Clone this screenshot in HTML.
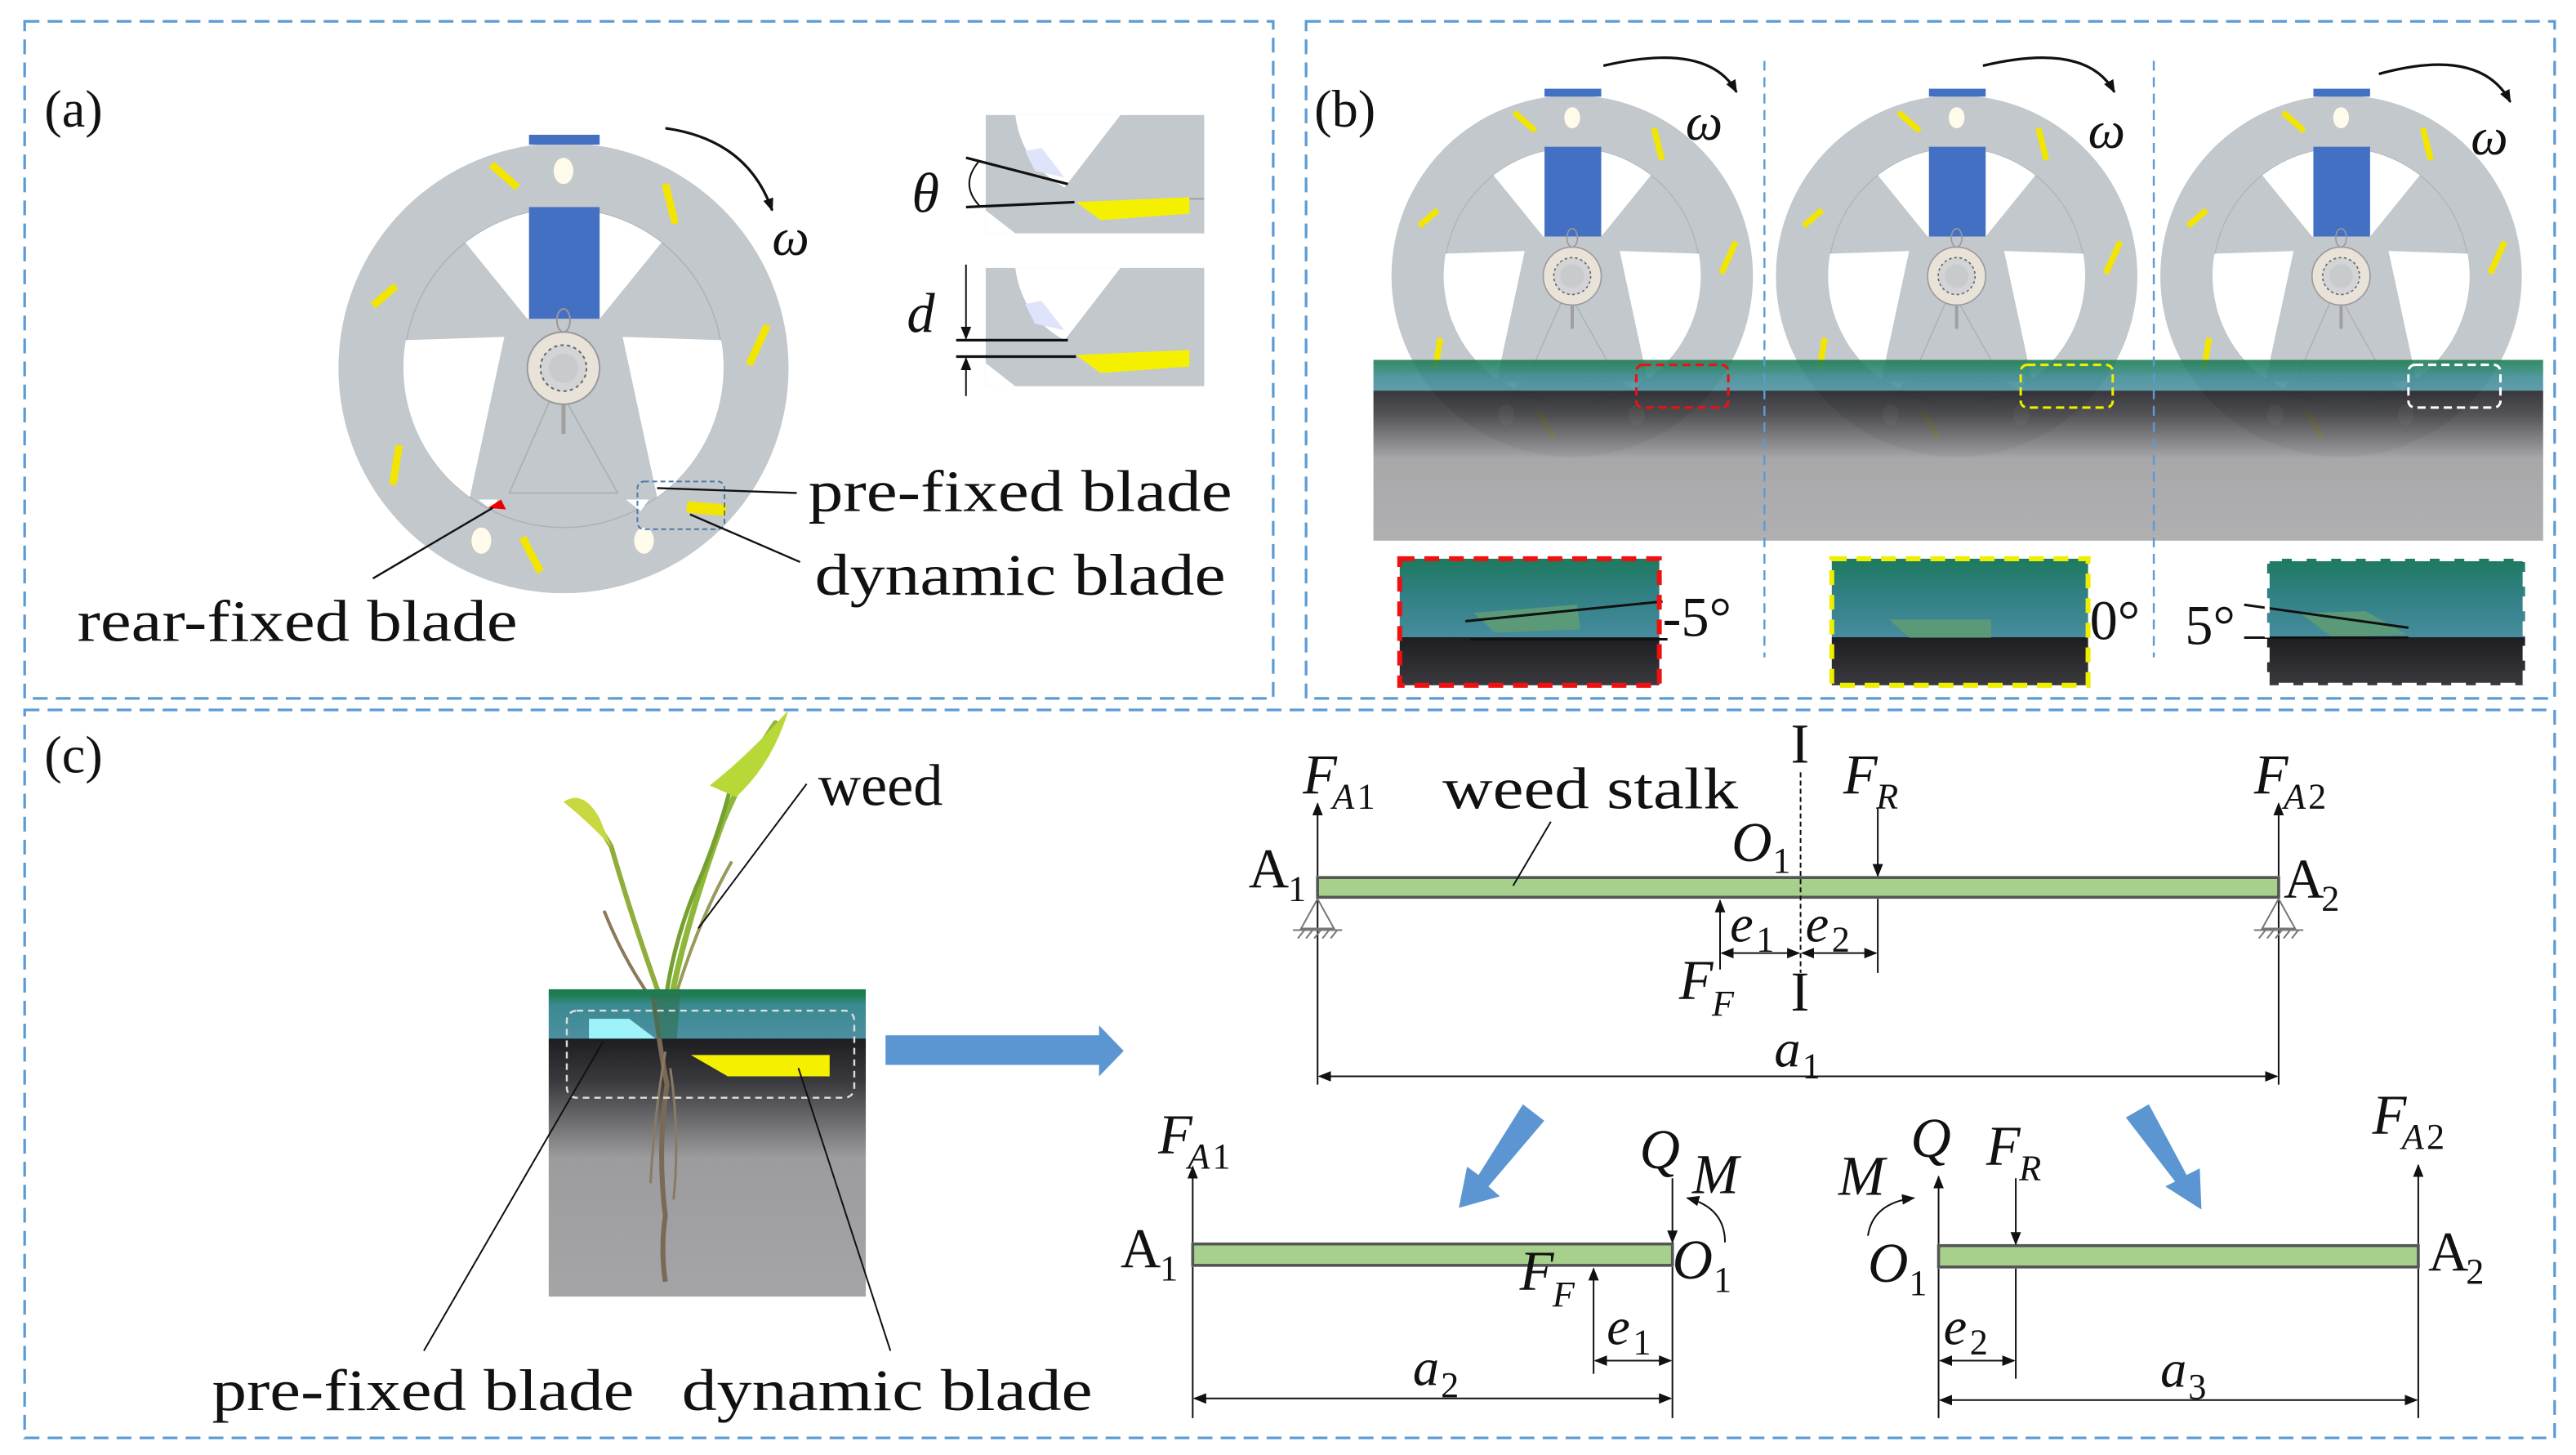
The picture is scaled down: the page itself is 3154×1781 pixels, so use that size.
<!DOCTYPE html>
<html><head><meta charset="utf-8"><style>
html,body{margin:0;padding:0;background:#fff;}
svg{display:block;}
text{font-family:"Liberation Serif",serif;fill:#111;}
.it{font-style:italic;}
</style></head><body>
<svg width="3154" height="1781" viewBox="0 0 1568 885.4" xmlns="http://www.w3.org/2000/svg">
<defs>
<marker id="ah" viewBox="0 0 10 10" refX="9" refY="5" markerWidth="8" markerHeight="8" markerUnits="userSpaceOnUse" orient="auto-start-reverse"><path d="M0,1 L10,5 L0,9 Z" fill="#111"/></marker>
<linearGradient id="soilB" x1="0" y1="0" x2="0" y2="1">
<stop offset="0" stop-color="#1b7a4e"/><stop offset="0.05" stop-color="#27836e"/><stop offset="0.09" stop-color="#3a8a90"/><stop offset="0.17" stop-color="#4c8fa2"/><stop offset="0.171" stop-color="#1d1d22"/><stop offset="0.3" stop-color="#3c3c40"/><stop offset="0.55" stop-color="#9c9c9e"/><stop offset="1" stop-color="#a5a5a7"/></linearGradient>
<linearGradient id="soilC" x1="0" y1="0" x2="0" y2="1">
<stop offset="0" stop-color="#1b7a4e"/><stop offset="0.02" stop-color="#1f7d55"/><stop offset="0.05" stop-color="#3a8a90"/><stop offset="0.16" stop-color="#4c8fa2"/><stop offset="0.161" stop-color="#1d1d22"/><stop offset="0.3" stop-color="#3a3a3e"/><stop offset="0.55" stop-color="#9c9c9e"/><stop offset="1" stop-color="#a5a5a7"/></linearGradient>
<linearGradient id="ins" x1="0" y1="0" x2="0" y2="1">
<stop offset="0" stop-color="#1d7a5e"/><stop offset="0.25" stop-color="#2e7f80"/><stop offset="0.62" stop-color="#468c9e"/><stop offset="0.621" stop-color="#1e1e22"/><stop offset="1" stop-color="#3a3a3e"/></linearGradient>
<g id="wheel">
<circle r="137" fill="#c3c8cc"/>
<circle r="97" fill="none" stroke="#aeb3b8" stroke-width="0.8"/>
<path d="M-59.7,-76.4 A97,97 0 0 1 59.7,-76.4 L22,-30 L-22,-30 Z" fill="#fff"/>
<path d="M-96,-17 A97,97 0 0 0 -57,78.5 L-36,-19 Z" fill="#fff"/>
<path d="M96,-17 A97,97 0 0 1 57,78.5 L36,-19 Z" fill="#fff"/>
<path d="M-4,10 L-33,76 L33,76 Z" fill="none" stroke="#a9aeb3" stroke-width="0.8"/>
<path d="M-52,80 L-40,80 L-44,86 Z M38,80 L52,80 L47,87 Z" fill="#fff"/>
<rect x="-21" y="-98" width="43" height="68" fill="#4470c4"/>
<rect x="-21" y="-142" width="43" height="6" fill="#4470c4"/>
<ellipse cx="0" cy="-29" rx="4" ry="7" fill="none" stroke="#999" stroke-width="1"/>
<line x1="0" y1="20" x2="0" y2="40" stroke="#a0a0a0" stroke-width="2.5"/>
<circle r="22" fill="#e8e2d8" stroke="#9a9a9a" stroke-width="1"/>
<circle r="14" fill="#d2d4d6" stroke="#666" stroke-width="1" stroke-dasharray="2 2"/>
<circle r="9" fill="#c8cbce"/>
<ellipse cx="0" cy="-120" rx="6" ry="8" fill="#fffbea"/>
<ellipse cx="-50" cy="105" rx="6" ry="8" fill="#fffbea"/>
<ellipse cx="49" cy="105" rx="6" ry="8" fill="#fffbea"/>
<g stroke="#f2e600" stroke-width="4.5" stroke-linecap="butt">
<line x1="-44" y1="-124" x2="-28" y2="-110"/>
<line x1="62" y1="-112" x2="68" y2="-88"/>
<line x1="-116" y1="-38" x2="-102" y2="-50"/>
<line x1="124" y1="-26" x2="113" y2="-2"/>
<line x1="-100" y1="47" x2="-104" y2="71"/>
<line x1="-25" y1="103" x2="-14" y2="124"/>
</g>
</g>
</defs>

<!-- panel borders -->
<g fill="none" stroke="#5b9bd5" stroke-width="1.6" stroke-dasharray="9 5">
<rect x="15" y="13" width="760" height="412"/>
<rect x="795" y="13" width="760" height="412"/>
<rect x="15" y="432" width="1540" height="443"/>
</g>

<!-- ===== (a) ===== -->
<text x="27" y="77" font-size="32">(a)</text>
<use href="#wheel" transform="translate(343,224)"/>
<rect x="418" y="306" width="24" height="7" fill="#f2e600" transform="rotate(5 430 310)"/>
<path d="M297,309 L305,304 L308,310 Z" fill="#e00"/>
<rect x="388" y="293" width="53" height="29" rx="4" fill="none" stroke="#4a7aa8" stroke-width="1" stroke-dasharray="3 2"/>
<path d="M405,78 Q455,85 470,128" fill="none" stroke="#111" stroke-width="1.6" marker-end="url(#ah)"/>
<text x="470" y="155" font-size="32" class="it">ω</text>
<line x1="400" y1="297" x2="485" y2="300" stroke="#111" stroke-width="1.2"/>
<line x1="420" y1="313" x2="487" y2="342" stroke="#111" stroke-width="1.2"/>
<line x1="300" y1="309" x2="227" y2="352" stroke="#111" stroke-width="1.2"/>
<text x="492" y="311" font-size="36" textLength="258" lengthAdjust="spacingAndGlyphs">pre-fixed blade</text>
<text x="496" y="362" font-size="36" textLength="250" lengthAdjust="spacingAndGlyphs">dynamic blade</text>
<text x="47" y="390" font-size="36" textLength="268" lengthAdjust="spacingAndGlyphs">rear-fixed blade</text>
<!-- inset top -->
<g>
<rect x="600" y="70" width="133" height="72" fill="#c3c8cc"/>
<path d="M618,70 Q622,100 648,114 L682,70 Z" fill="#fff"/>
<path d="M600,128 L600,142 L618,142 Z" fill="#fff"/>
<path d="M624,92 L634,90 L648,108 L630,104 Z" fill="#dfe4fb"/>
<path d="M655,123 L724,120 L724,130 L670,134 Z" fill="#f5f000"/>
<line x1="724" y1="121" x2="733" y2="121" stroke="#999" stroke-width="0.8"/>
<line x1="588" y1="96" x2="650" y2="112" stroke="#111" stroke-width="1.6"/>
<line x1="588" y1="126" x2="654" y2="123" stroke="#111" stroke-width="1.6"/>
<path d="M596,98 Q584,112 596,125" fill="none" stroke="#111" stroke-width="1"/>
<text x="555" y="129" font-size="34" class="it">θ</text>
</g>
<g>
<rect x="600" y="163" width="133" height="72" fill="#c3c8cc"/>
<path d="M618,163 Q622,193 648,207 L682,163 Z" fill="#fff"/>
<path d="M600,221 L600,235 L618,235 Z" fill="#fff"/>
<path d="M624,185 L634,183 L648,201 L630,197 Z" fill="#dfe4fb"/>
<path d="M655,216 L724,213 L724,223 L670,227 Z" fill="#f5f000"/>
<line x1="582" y1="207" x2="650" y2="207" stroke="#111" stroke-width="1.6"/>
<line x1="582" y1="217" x2="655" y2="217" stroke="#111" stroke-width="1.6"/>
<line x1="588" y1="161" x2="588" y2="206" stroke="#111" stroke-width="1" marker-end="url(#ah)"/>
<line x1="588" y1="241" x2="588" y2="218" stroke="#111" stroke-width="1" marker-end="url(#ah)"/>
<text x="552" y="202" font-size="34" class="it">d</text>
</g>

<!-- ===== (b) ===== -->
<text x="800" y="77" font-size="32">(b)</text>
<use href="#wheel" transform="translate(957,168) scale(0.803)"/>
<use href="#wheel" transform="translate(1191,168) scale(0.803)"/>
<use href="#wheel" transform="translate(1425,168) scale(0.803)"/>
<rect x="836" y="219" width="712" height="110" fill="url(#soilB)" opacity="0.88"/>
<g fill="none" stroke-width="1.5" stroke-dasharray="5 3">
<rect x="996" y="222" width="56" height="26" rx="4" stroke="#e11"/>
<rect x="1230" y="222" width="56" height="26" rx="4" stroke="#ee0"/>
<rect x="1466" y="222" width="56" height="26" rx="4" stroke="#fff"/>
</g>
<g stroke="#5b9bd5" stroke-width="1.2" stroke-dasharray="6 4">
<line x1="1074" y1="37" x2="1074" y2="400"/>
<line x1="1311" y1="37" x2="1311" y2="400"/>
</g>
<path d="M976,40 Q1040,25 1057,56" fill="none" stroke="#111" stroke-width="1.6" marker-end="url(#ah)"/>
<path d="M1207,40 Q1270,25 1287,56" fill="none" stroke="#111" stroke-width="1.6" marker-end="url(#ah)"/>
<path d="M1448,45 Q1510,28 1528,62" fill="none" stroke="#111" stroke-width="1.6" marker-end="url(#ah)"/>
<text x="1026" y="85" font-size="32" class="it">ω</text>
<text x="1271" y="90" font-size="32" class="it">ω</text>
<text x="1504" y="94" font-size="32" class="it">ω</text>
<!-- insets -->
<rect x="852" y="340" width="158" height="77" fill="url(#ins)"/>
<path d="M897,373 L960,368 L962,383 L910,385 Z" fill="#5a9a78"/>
<line x1="892" y1="378" x2="1012" y2="366" stroke="#111" stroke-width="1.5"/>
<line x1="895" y1="389" x2="1015" y2="389" stroke="#111" stroke-width="1.5"/>
<rect x="852" y="340" width="158" height="77" fill="none" stroke="#e11" stroke-width="3" stroke-dasharray="9 6"/>
<text x="1012" y="387" font-size="34">-5°</text>
<rect x="1115" y="340" width="156" height="77" fill="url(#ins)"/>
<path d="M1150,377 L1212,377 L1212,388 L1162,388 Z" fill="#5a9a78"/>
<rect x="1115" y="340" width="156" height="77" fill="none" stroke="#ee0" stroke-width="3" stroke-dasharray="9 6"/>
<text x="1272" y="389" font-size="34">0°</text>
<rect x="1380" y="340" width="157" height="77" fill="url(#ins)"/>
<path d="M1400,373 L1440,372 L1465,386 L1420,388 Z" fill="#5a9a78"/>
<line x1="1366" y1="368" x2="1466" y2="382" stroke="#111" stroke-width="1.5"/>
<line x1="1366" y1="388" x2="1466" y2="388" stroke="#111" stroke-width="1.5"/>
<rect x="1380" y="340" width="157" height="77" fill="none" stroke="#fff" stroke-width="3" stroke-dasharray="9 6"/>
<text x="1330" y="392" font-size="34">5°</text>

<!-- ===== (c) ===== -->
<text x="27" y="470" font-size="32">(c)</text>
<!-- plant -->
<g fill="none" stroke-linecap="round">
<path d="M403,610 Q385,560 372,515 Q360,495 352,488" stroke="#8fae3a" stroke-width="3"/>
<path d="M408,610 Q418,560 440,500 Q455,465 472,440" stroke="#8fb83a" stroke-width="3.5"/>
<path d="M410,610 Q425,560 445,525" stroke="#9a9a5a" stroke-width="2"/>
<path d="M398,610 Q380,585 368,555" stroke="#8a7a5a" stroke-width="2"/>
<path d="M405,610 Q410,570 428,530 Q440,500 447,470" stroke="#76a030" stroke-width="2.5"/>
</g>
<path d="M343,488 Q355,480 365,498 L372,515 Q358,500 343,488 Z" fill="#c8d840"/>
<path d="M432,478 Q455,460 480,432 Q470,465 448,485 Z" fill="#b8d838"/>
<rect x="334" y="602" width="193" height="187" fill="url(#soilC)"/>
<path d="M398,608 Q402,640 406,660 Q400,700 405,740 Q402,760 405,780" fill="none" stroke="#7a6a55" stroke-width="3"/>
<path d="M405,640 Q398,680 396,720 M408,650 Q414,690 410,730" fill="none" stroke="#8a7a65" stroke-width="1.5"/>
<path d="M396,605 L400,632 L412,632 L414,605 Z" fill="#2f7050" opacity="0.6"/>
<path d="M358.5,620 L383,620 L399,632 L358.5,632 Z" fill="#9ef3fa"/>
<path d="M420.5,642 L505,642 L505,655 L443,655 Z" fill="#f5f000"/>
<rect x="345" y="615" width="175" height="53" rx="6" fill="none" stroke="#ddd" stroke-width="1.2" stroke-dasharray="4 3"/>
<line x1="491" y1="477" x2="425" y2="565" stroke="#111" stroke-width="1"/>
<text x="498" y="490" font-size="36">weed</text>
<line x1="367" y1="634" x2="258" y2="822" stroke="#111" stroke-width="1"/>
<line x1="486" y1="650" x2="542" y2="822" stroke="#111" stroke-width="1"/>
<text x="129" y="858" font-size="36" textLength="257" lengthAdjust="spacingAndGlyphs">pre-fixed blade</text>
<text x="415" y="858" font-size="36" textLength="250" lengthAdjust="spacingAndGlyphs">dynamic blade</text>
<!-- blue arrows -->
<path d="M539,630 L669,630 L669,624 L684,639.5 L669,655 L669,648 L539,648 Z" fill="#5b96d2"/>
<path d="M927,672 L940,682 L906,722 L913,728 L888,735 L893,710 L900,715 Z" fill="#5b96d2"/>
<path d="M1294,680 L1308,672 L1331,715 L1339,711 L1340,736 L1318,722 L1324,719 Z" fill="#5b96d2"/>

<!-- top beam -->
<g stroke="#111" stroke-width="1" fill="none">
<rect x="802" y="534" width="585" height="12" fill="#a8d08d" stroke="#555" stroke-width="1.8"/>
<line x1="802" y1="533" x2="802" y2="489" marker-end="url(#ah)"/>
<line x1="1387" y1="533" x2="1387" y2="489" marker-end="url(#ah)"/>
<line x1="802" y1="547" x2="802" y2="660"/>
<line x1="1387" y1="547" x2="1387" y2="660"/>
<line x1="803" y1="655" x2="1386" y2="655" marker-start="url(#ah)" marker-end="url(#ah)"/>
<line x1="1143" y1="492" x2="1143" y2="533" marker-end="url(#ah)"/>
<line x1="1143" y1="547" x2="1143" y2="592"/>
<line x1="1047" y1="590" x2="1047" y2="548" marker-end="url(#ah)"/>
<line x1="1048" y1="580" x2="1095" y2="580" marker-start="url(#ah)" marker-end="url(#ah)"/>
<line x1="1097" y1="580" x2="1142" y2="580" marker-start="url(#ah)" marker-end="url(#ah)"/>
<line x1="1096" y1="470" x2="1096" y2="592" stroke-dasharray="3 2"/>
<line x1="944" y1="500" x2="921" y2="539"/>
<path d="M802,547 L792,565 L812,565 Z M1387,547 L1377,565 L1397,565 Z" stroke="#777"/>
<path d="M787,566 L817,566 M1372,566 L1402,566 M790,571 L794,566 M795,571 L799,566 M800,571 L804,566 M805,571 L809,566 M810,571 L814,566 M1375,571 L1379,566 M1380,571 L1384,566 M1385,571 L1389,566 M1390,571 L1394,566 M1395,571 L1399,566" stroke="#777"/>
</g>
<text x="793" y="483" font-size="34" class="it">F</text><text x="811" y="492" font-size="22" class="it">A</text><text x="826" y="492" font-size="22">1</text>
<text x="1372" y="483" font-size="34" class="it">F</text><text x="1390" y="492" font-size="22" class="it">A</text><text x="1405" y="492" font-size="22">2</text>
<text x="878" y="492" font-size="36" textLength="180" lengthAdjust="spacingAndGlyphs">weed stalk</text>
<text x="1090" y="464" font-size="34">I</text>
<text x="1090" y="615" font-size="34">I</text>
<text x="1122" y="483" font-size="34" class="it">F</text><text x="1142" y="492" font-size="22" class="it">R</text>
<text x="1054" y="524" font-size="34" class="it">O</text><text x="1079" y="531" font-size="22">1</text>
<text x="760" y="540" font-size="34">A</text><text x="784" y="548" font-size="22">1</text>
<text x="1390" y="546" font-size="34">A</text><text x="1413" y="554" font-size="22">2</text>
<text x="1053" y="573" font-size="32" class="it">e</text><text x="1069" y="579" font-size="22">1</text>
<text x="1099" y="573" font-size="32" class="it">e</text><text x="1115" y="579" font-size="22">2</text>
<text x="1022" y="608" font-size="34" class="it">F</text><text x="1042" y="618" font-size="22" class="it">F</text>
<text x="1080" y="649" font-size="32" class="it">a</text><text x="1097" y="656" font-size="22">1</text>

<!-- bottom left beam -->
<g stroke="#111" stroke-width="1" fill="none">
<rect x="726" y="757" width="292" height="13" fill="#a8d08d" stroke="#555" stroke-width="1.8"/>
<line x1="726" y1="756" x2="726" y2="710" marker-end="url(#ah)"/>
<line x1="726" y1="771" x2="726" y2="863"/>
<line x1="1018" y1="717" x2="1018" y2="756" marker-end="url(#ah)"/>
<line x1="1018" y1="771" x2="1018" y2="863"/>
<line x1="970" y1="836" x2="970" y2="772" marker-end="url(#ah)"/>
<line x1="971" y1="828" x2="1017" y2="828" marker-start="url(#ah)" marker-end="url(#ah)"/>
<line x1="727" y1="851" x2="1017" y2="851" marker-start="url(#ah)" marker-end="url(#ah)"/>
<path d="M1050,756 Q1050,735 1027,729" marker-end="url(#ah)"/>
</g>
<text x="705" y="702" font-size="34" class="it">F</text><text x="723" y="711" font-size="22" class="it">A</text><text x="738" y="711" font-size="22">1</text>
<text x="682" y="771" font-size="34">A</text><text x="706" y="779" font-size="22">1</text>
<text x="998" y="711" font-size="34" class="it">Q</text>
<text x="1030" y="726" font-size="34" class="it">M</text>
<text x="1018" y="778" font-size="34" class="it">O</text><text x="1043" y="786" font-size="22">1</text>
<text x="925" y="785" font-size="34" class="it">F</text><text x="945" y="795" font-size="22" class="it">F</text>
<text x="978" y="818" font-size="32" class="it">e</text><text x="994" y="824" font-size="22">1</text>
<text x="860" y="843" font-size="32" class="it">a</text><text x="877" y="850" font-size="22">2</text>

<!-- bottom right beam -->
<g stroke="#111" stroke-width="1" fill="none">
<rect x="1180" y="758" width="292" height="13" fill="#a8d08d" stroke="#555" stroke-width="1.8"/>
<line x1="1180" y1="757" x2="1180" y2="716" marker-end="url(#ah)"/>
<line x1="1180" y1="772" x2="1180" y2="863"/>
<line x1="1472" y1="757" x2="1472" y2="709" marker-end="url(#ah)"/>
<line x1="1472" y1="772" x2="1472" y2="863"/>
<line x1="1227" y1="717" x2="1227" y2="757" marker-end="url(#ah)"/>
<line x1="1227" y1="772" x2="1227" y2="839"/>
<line x1="1181" y1="828" x2="1226" y2="828" marker-start="url(#ah)" marker-end="url(#ah)"/>
<line x1="1181" y1="852" x2="1471" y2="852" marker-start="url(#ah)" marker-end="url(#ah)"/>
<path d="M1137,752 Q1140,732 1165,729" marker-end="url(#ah)"/>
</g>
<text x="1163" y="704" font-size="34" class="it">Q</text>
<text x="1119" y="727" font-size="34" class="it">M</text>
<text x="1137" y="780" font-size="34" class="it">O</text><text x="1162" y="788" font-size="22">1</text>
<text x="1209" y="709" font-size="34" class="it">F</text><text x="1229" y="718" font-size="22" class="it">R</text>
<text x="1444" y="690" font-size="34" class="it">F</text><text x="1462" y="699" font-size="22" class="it">A</text><text x="1477" y="699" font-size="22">2</text>
<text x="1478" y="773" font-size="34">A</text><text x="1501" y="781" font-size="22">2</text>
<text x="1183" y="818" font-size="32" class="it">e</text><text x="1199" y="824" font-size="22">2</text>
<text x="1315" y="844" font-size="32" class="it">a</text><text x="1332" y="851" font-size="22">3</text>
</svg>
</body></html>
